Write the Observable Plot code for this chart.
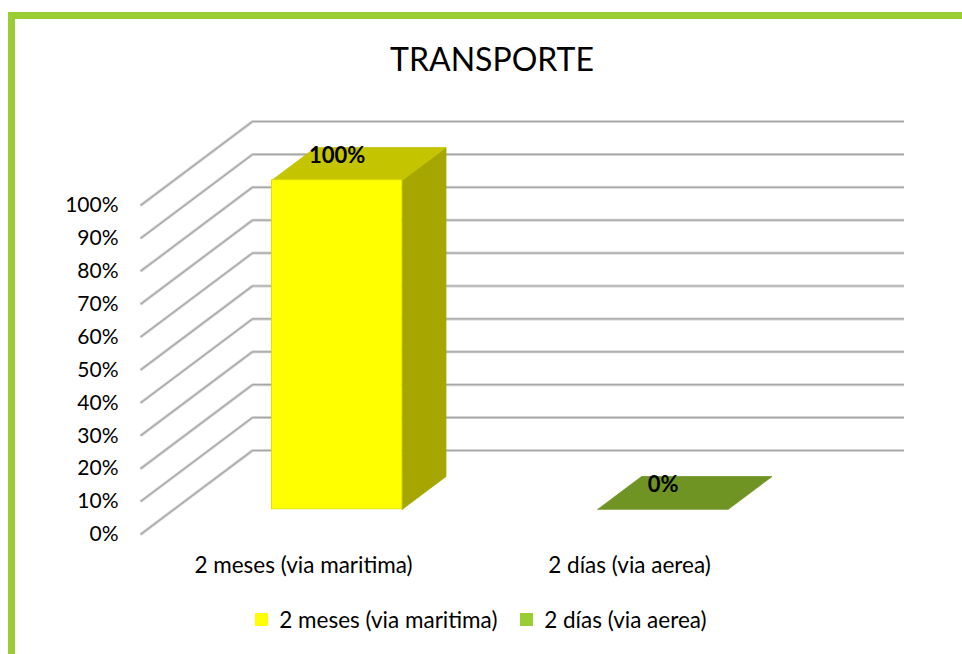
<!DOCTYPE html>
<html>
<head>
<meta charset="utf-8">
<script src="https://cdn.jsdelivr.net/npm/d3@7"></script>
<script src="https://cdn.jsdelivr.net/npm/@observablehq/plot@0.6"></script>
<style>
  html, body { margin: 0; padding: 0; background: #fff; }
  #wrap { position: relative; width: 962px; height: 654px; overflow: hidden; font-family: Lato, "Open Sans", sans-serif; color: #000; }
  #frame { position: absolute; left: 8px; top: 12px; width: 954px; height: 642px; box-sizing: border-box;
           border-left: 7px solid #9ACD32; border-top: 7px solid #9ACD32; }
  #title { position: absolute; left: 492px; top: 43px; transform: translateX(-50%); font-size: 32px; line-height: 1; white-space: nowrap; }
  #chart { position: absolute; left: 0; top: 0; }
  #chart svg g[aria-label^="x-axis"] { font-size: 22.5px; }
  #legend { position: absolute; left: 0; top: 603px; width: 984px; display: flex; justify-content: center; }
</style>
</head>
<body>
<div id="wrap">
  <div id="frame"></div>
  <div id="title">TRANSPORTE</div>
  <div id="chart"></div>
  <div id="legend"></div>
</div>
<script>
// ---- data ----
const categories = ["2 meses (via maritima)", "2 días (via aerea)"];
const values = [1.0, 0.0];
const yTicks = [0, 0.1, 0.2, 0.3, 0.4, 0.5, 0.6, 0.7, 0.8, 0.9, 1.0];
const colors = ["#FFFF00", "#9ACD32"];
const title = "TRANSPORTE";

// ---- 3D projection (style constants) ----
const DX = 112 / 326;   // depth offset in category units
const DY = 84 / 329;    // depth offset in value units
const zf = 0.3, zb = 0.69;   // bar front/back depth fraction
const b0 = 0.3, b1 = 0.7;    // bar extent within category
const shade = (hex, k) => { const c = d3.rgb(hex); return d3.rgb(c.r * k, c.g * k, c.b * k).formatHex(); };
const P = (x, y, z) => ({x: x + z * DX, y: y + z * DY});
const fmt = d3.format(".0%");

const fronts = [], polys = [], labels = [];
categories.forEach((c, i) => {
  const v = values[i];
  const x0 = i + b0, x1 = i + b1;
  const col = colors[i];
  if (v > 0) {
    fronts.push({x1: x0 + zf * DX, x2: x1 + zf * DX, y1: zf * DY, y2: v + zf * DY, fill: col, stroke: shade(col, 0.85)});
    const sId = "side" + i, sF = shade(col, 0.65);
    [P(x1, 0, zf), P(x1, 0, zb), P(x1, v, zb), P(x1, v, zf), P(x1, 0, zf)]
      .forEach(p => polys.push({...p, id: sId, fill: sF}));
  }
  const tId = "top" + i, tF = v > 0 ? shade(col, 0.77) : shade(col, 0.72);
  [P(x0, v, zf), P(x1, v, zf), P(x1, v, zb), P(x0, v, zb), P(x0, v, zf)]
    .forEach(p => polys.push({...p, id: tId, fill: tF}));
  labels.push({x: i + 0.5 + zf * DX, y: v + zf * DY, text: fmt(v)});
});

document.getElementById("title").textContent = title;

const chart = Plot.plot({
  width: 962,
  height: 600,
  marginTop: 121,
  marginBottom: 66,
  marginLeft: 140,
  marginRight: 58,
  style: {fontFamily: "Lato, 'Open Sans', sans-serif", fontSize: "21px", color: "#000", background: "transparent", overflow: "visible"},
  x: {domain: [0, categories.length + DX], ticks: categories.map((_, i) => i + 0.5),
      tickFormat: d => categories[Math.floor(d)], tickSize: 0, tickPadding: 23, label: null},
  y: {domain: [0, 1 + DY], ticks: yTicks, tickFormat: fmt, tickSize: 0, tickPadding: 22, label: null},
  marks: [
    // back wall gridlines
    Plot.ruleY(yTicks, {y: d => d + DY, x1: DX, x2: categories.length + DX, stroke: "#d4d4d4", strokeWidth: 3}),
    Plot.ruleY(yTicks, {y: d => d + DY, x1: DX, x2: categories.length + DX, stroke: "#a6a6a6", strokeWidth: 1.2}),
    // side wall diagonals
    Plot.link(yTicks, {x1: 0, y1: d => d, x2: DX, y2: d => d + DY, stroke: "#d4d4d4", strokeWidth: 3}),
    Plot.link(yTicks, {x1: 0, y1: d => d, x2: DX, y2: d => d + DY, stroke: "#a6a6a6", strokeWidth: 1.2}),
    // bars: side and top faces
    Plot.line(polys, {x: "x", y: "y", z: "id", fill: "fill", stroke: "fill", strokeWidth: 0.8, curve: "linear"}),
    // bars: front faces
    Plot.rect(fronts, {x1: "x1", x2: "x2", y1: "y1", y2: "y2", fill: "fill", stroke: "stroke", strokeWidth: 0.8}),
    // value labels
    Plot.text(labels, {x: "x", y: "y", text: "text", dy: -24, fontWeight: "bold", fontSize: 22, fill: "#000"})
  ]
});
document.getElementById("chart").appendChild(chart);

const legend = Plot.legend({
  color: {type: "categorical", domain: categories, range: colors},
  swatchSize: 13,
  style: {fontFamily: "Lato, 'Open Sans', sans-serif", fontSize: "22.5px", color: "#000", margin: "0"}
});
document.getElementById("legend").appendChild(legend);
</script>
</body>
</html>
